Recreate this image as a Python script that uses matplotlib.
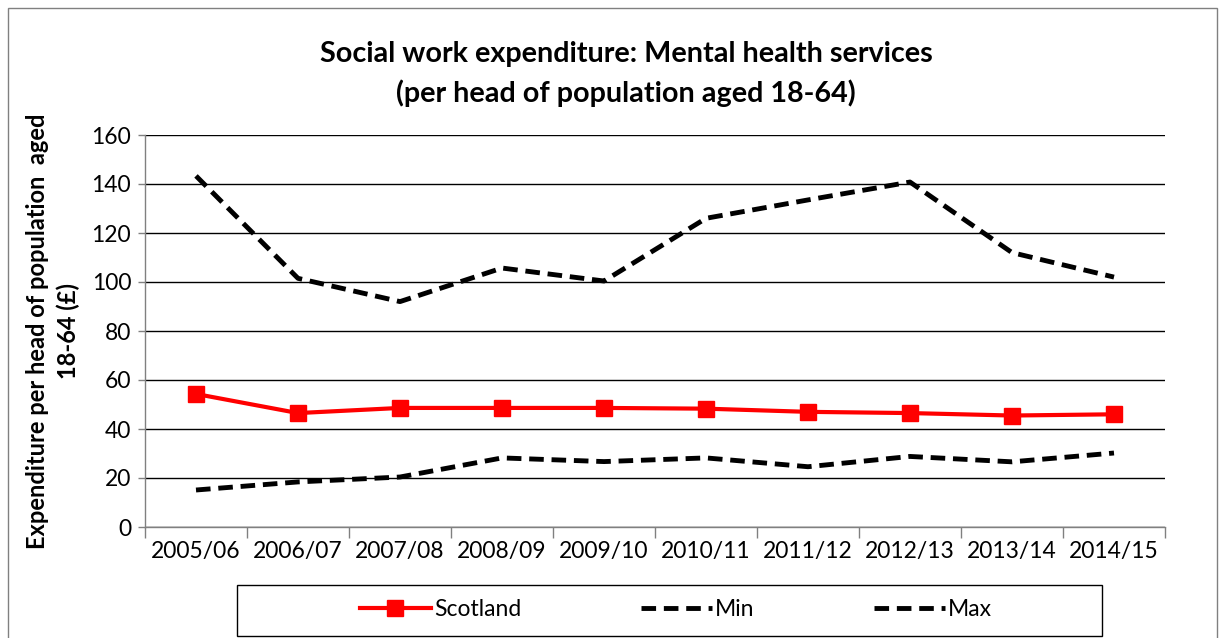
import numpy as np
import matplotlib.pyplot as plt
from matplotlib.patches import Rectangle

plt.rcParams['font.family'] = ['Lato', 'DejaVu Sans']

# Data
years = ['2005/06', '2006/07', '2007/08', '2008/09', '2009/10',
         '2010/11', '2011/12', '2012/13', '2013/14', '2014/15']
scotland = [54.3, 46.5, 48.6, 48.6, 48.6, 48.3, 47.0, 46.5, 45.5, 46.0]
min_vals = [15.1, 18.4, 20.4, 28.2, 26.7, 28.2, 24.6, 28.8, 26.6, 30.2]
max_vals = [143.3, 101.5, 92.0, 105.7, 100.4, 126.0, 133.5, 140.8, 112.0, 102.0]

x = np.arange(len(years))
W, H = 1225, 638

fig = plt.figure(figsize=(W / 100, H / 100), dpi=100)
ax = fig.add_axes([145 / W, 1 - 527 / H, 1020 / W, 392 / H])

# Outer border of the chart
fig.patches.append(Rectangle((8 / W, -0.01), 1209 / W, 630 / H + 0.01,
                             transform=fig.transFigure, fill=False,
                             edgecolor='#808080', linewidth=1))

ax.plot(x, scotland, color='#ff0000', linewidth=3, marker='s',
        markersize=11, label='Scotland', zorder=4)
ax.plot(x, min_vals, color='black', linewidth=3.5, linestyle=(0, (3, 1.6)),
        label='Min', zorder=3)
ax.plot(x, max_vals, color='black', linewidth=3.5, linestyle=(0, (3, 1.6)),
        label='Max', zorder=3)

ax.set_ylim(0, 160)
ax.set_yticks(np.arange(0, 161, 20))
ax.set_xlim(-0.5, len(years) - 0.5)
ax.set_xticks(x)
ax.set_xticklabels(years)
ax.set_xticks(np.arange(-0.5, len(years), 1), minor=True)
ax.tick_params(axis='x', which='major', length=0, pad=10, labelsize=16.5)
ax.tick_params(axis='x', which='minor', length=8, width=1, color='#808080')
ax.tick_params(axis='y', length=5, width=1, color='#808080', labelsize=16.5, pad=5)

ax.grid(axis='y', color='black', linewidth=1)
ax.set_axisbelow(True)
for side in ['top', 'right']:
    ax.spines[side].set_visible(False)
for side in ['left', 'bottom']:
    ax.spines[side].set_color('#808080')
    ax.spines[side].set_linewidth(1)

ax.set_ylabel('Expenditure per head of population  aged\n18-64 (£)',
              fontsize=17, fontweight='bold', linespacing=1.4)
ax.yaxis.set_label_coords((80 - 145) / 1020, 0.5)

fig.text(0.511, 1 - 74 / H,
         'Social work expenditure: Mental health services\n(per head of population aged 18-64)',
         ha='center', va='center', fontsize=20.7, fontweight='bold', linespacing=1.55)

# Legend box
fig.patches.append(Rectangle((237 / W, 2 / H), 865 / W, 51 / H,
                             transform=fig.transFigure, fill=False,
                             edgecolor='black', linewidth=1))
leg = fig.legend(loc='center', ncol=3, bbox_to_anchor=(676 / W, 1 - 610 / H),
                 fontsize=16.5, frameon=False, handlelength=3.1,
                 handletextpad=0.15, columnspacing=5.2)

fig.savefig('out.png', dpi=100)
